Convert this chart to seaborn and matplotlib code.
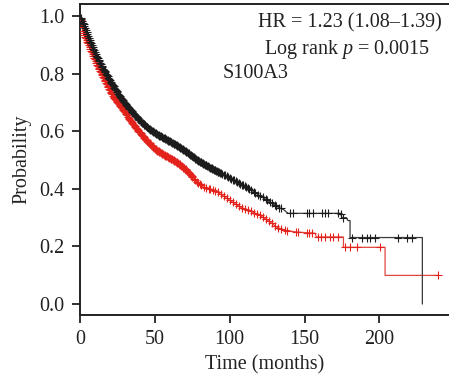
import numpy as np
import pandas as pd
import matplotlib
matplotlib.use("Agg")
import matplotlib.pyplot as plt
import seaborn as sns

# ---- data ----
black_time = [0, 3.3, 6.7, 11, 15.6, 20, 25.6, 31.2, 37.9, 44.5, 51, 58, 64.6, 71.3, 78,
              84.6, 91.3, 98, 104.7, 111.4, 118, 124.7, 131.4, 136, 139, 174, 175, 178,
              179, 180.4, 180.4, 228.7, 228.7]
black_surv = [1.0, 0.962, 0.915, 0.863, 0.817, 0.777, 0.730, 0.690, 0.649, 0.615, 0.591,
              0.571, 0.551, 0.528, 0.501, 0.481, 0.462, 0.444, 0.424, 0.406, 0.383, 0.362,
              0.339, 0.328, 0.315, 0.315, 0.300, 0.300, 0.290, 0.290, 0.231, 0.231, 0.0]

red_time = [0, 2.2, 5.6, 8.9, 12.2, 16.7, 21.2, 26.7, 32.3, 37.9, 44.5, 51.2, 57.9, 64.6,
            71.3, 78, 82.4, 89, 93.5, 100.2, 107, 113.6, 120.3, 127, 131.4, 135.9, 145,
            157, 158, 176, 176, 203.8, 203.8, 239.4]
red_surv = [1.0, 0.944, 0.904, 0.863, 0.823, 0.777, 0.730, 0.690, 0.649, 0.609, 0.568,
            0.534, 0.513, 0.493, 0.464, 0.424, 0.406, 0.397, 0.383, 0.360, 0.337, 0.323,
            0.308, 0.285, 0.267, 0.257, 0.250, 0.246, 0.233, 0.233, 0.197, 0.197, 0.0995,
            0.0995]

black_censor = [0.5, 1, 1.5, 2, 2.5, 3, 3.5, 4, 4.5, 5, 5.5, 6, 6.5, 7, 7.5, 8, 8.5, 9,
                9.5, 10, 10.5, 11, 11.5, 12, 12.5, 13, 13.5, 14, 14.5, 15, 15.5, 16, 16.5,
                17, 17.5, 18, 18.5, 19, 19.5, 20, 20.5, 21, 21.5, 22, 22.5, 23, 23.5, 24,
                24.5, 25, 25.5, 26, 26.5, 27, 27.5, 28, 28.5, 29, 29.5, 30, 30.5, 31,
                31.5, 32, 32.5, 33, 33.5, 34, 34.5, 35, 35.5, 36, 36.5, 37, 37.5, 38,
                38.5, 39, 39.5, 40, 40.5, 41, 41.5, 42, 42.5, 43, 43.5, 44, 44.5, 45,
                45.5, 46, 46.5, 47, 47.5, 48, 48.5, 49, 49.5, 50, 50.5, 51, 51.5, 52,
                52.5, 53, 53.5, 54, 54.5, 55, 55.5, 56, 56.5, 57, 57.5, 58, 58.5, 59,
                59.5, 60, 60.5, 61, 61.5, 62, 62.5, 63, 63.5, 64, 64.5, 65, 65.5, 66,
                66.5, 67, 67.5, 68, 68.5, 69, 69.5, 70, 70.5, 71, 71.5, 72, 72.5, 73,
                73.5, 74, 74.5, 75, 75.5, 76, 76.5, 77, 77.5, 78, 78.5, 79, 79.5, 80,
                80.5, 81, 81.5, 82, 82.5, 83, 83.5, 84, 84.5, 85, 85.5, 86, 86.5, 87,
                87.5, 88, 88.5, 89, 89.5, 90, 90.5, 91, 91.5, 92, 92.5, 93, 93.5, 94,
                95, 96, 97, 98, 99, 100, 101, 102, 103, 104, 105, 106, 107, 108, 109,
                110, 111, 112, 113, 114, 116, 117, 119, 120, 122, 124, 125, 127, 128,
                130, 131, 133, 134, 140.3, 142.1, 151.4, 153.2, 155.9, 161.5, 163.7,
                165.9, 172.6, 174.2, 176, 181.5, 188.2, 191.5, 193.8, 197.1, 212.7,
                218.3, 221.6]
red_censor = [0.5, 1, 1.5, 2, 2.5, 3, 3.5, 4, 4.5, 5, 5.5, 6, 6.5, 7, 7.5, 8, 8.5, 9,
              9.5, 10, 10.5, 11, 11.5, 12, 12.5, 13, 13.5, 14, 14.5, 15, 15.5, 16, 16.5,
              17, 17.5, 18, 18.5, 19, 19.5, 20, 20.5, 21, 21.5, 22, 22.5, 23, 23.5, 24,
              24.5, 25, 25.5, 26, 26.5, 27, 27.5, 28, 28.5, 29, 29.5, 30, 30.5, 31, 31.5,
              32, 32.5, 33, 33.5, 34, 34.5, 35, 35.5, 36, 36.5, 37, 37.5, 38, 38.5, 39,
              39.5, 40, 40.5, 41, 41.5, 42, 42.5, 43, 43.5, 44, 44.5, 45, 45.5, 46, 46.5,
              47, 47.5, 48, 48.5, 49, 49.5, 50, 50.5, 51, 51.5, 52, 52.5, 53, 53.5, 54,
              54.5, 55, 55.5, 56, 56.5, 57, 57.5, 58, 58.5, 59, 59.5, 60, 60.5, 61, 61.5,
              62, 62.5, 63, 63.5, 64, 64.5, 65, 65.5, 66, 66.5, 67, 67.5, 68, 68.5, 69,
              69.5, 70, 70.5, 71, 71.5, 72, 72.5, 73, 73.5, 74, 74.5, 75, 76, 77, 78,
              79, 80, 81, 83, 84, 86, 87, 89, 90, 92, 94, 96, 98, 100, 102, 104, 106,
              108, 110, 112, 114, 116, 118, 120, 122, 124, 126, 128, 130, 132, 134, 137,
              138.5, 144.3, 145.9, 151.4, 153.2, 154.8, 159.2, 160.8, 163.7, 167, 169.3,
              172.6, 177, 180.4, 184.9, 200.4, 239.4]

x_ticks = [0, 50, 100, 150, 200]
y_ticks = [0.0, 0.2, 0.4, 0.6, 0.8, 1.0]
hr_text = "HR = 1.23 (1.08\u20131.39)"
p_text = "Log rank $p$ = 0.0015"
gene_text = "S100A3"

BLACK = "#1c1c1c"
RED = "#e3221c"
BLACK_TAIL = "#3a3a3a"
RED_TAIL = "#e2473f"

sns.set_theme(style="ticks")
plt.rcParams["font.family"] = ["Liberation Serif", "DejaVu Serif"]
plt.rcParams["mathtext.fontset"] = "custom"
plt.rcParams["mathtext.rm"] = "Liberation Serif"
plt.rcParams["mathtext.it"] = "Liberation Serif:italic"

fig = plt.figure(figsize=(4.49, 3.85), dpi=100)
ax = fig.add_axes([80 / 449, 70 / 385, 369 / 449, 311 / 385])


def surv_at(tt, times, surv):
    return np.interp(tt, times, surv)


df_b = pd.DataFrame({"t": black_time, "s": black_surv})
df_r = pd.DataFrame({"t": red_time, "s": red_surv})
cb = pd.DataFrame({"t": black_censor})
cb["s"] = surv_at(cb["t"].values, np.array(black_time[:-1]), np.array(black_surv[:-1]))
cr = pd.DataFrame({"t": red_censor})
cr["s"] = surv_at(cr["t"].values, np.array(red_time), np.array(red_surv))

sns.lineplot(data=df_r, x="t", y="s", sort=False, estimator=None, color=RED_TAIL,
             linewidth=0.9, ax=ax)
sns.scatterplot(data=cr, x="t", y="s", marker="+", s=26, color=RED, linewidth=0.8,
                ax=ax, zorder=3)
sns.lineplot(data=df_b, x="t", y="s", sort=False, estimator=None, color=BLACK_TAIL,
             linewidth=0.9, ax=ax)
sns.scatterplot(data=cb, x="t", y="s", marker="+", s=26, color=BLACK, linewidth=0.8,
                ax=ax, zorder=3)

ax.set_xlim(0, 246.5)
ax.set_ylim(-0.038, 1.042)
ax.set_xticks(x_ticks)
ax.set_yticks(y_ticks)
ax.set_yticklabels([f"{v:.1f}" for v in y_ticks])
ax.set_xlabel("Time (months)", fontsize=14.5, color="#222222", labelpad=4)
ax.set_ylabel("Probability", fontsize=14.5, color="#222222", labelpad=6)
ax.tick_params(axis="both", labelsize=14.5, length=6, width=1.3, direction="out",
               pad=5, colors="#222222")
for side in ["left", "bottom", "top"]:
    ax.spines[side].set_linewidth(1.4)
    ax.spines[side].set_color("#222222")
ax.spines["right"].set_visible(False)
ax.spines["top"].set_visible(True)

ax.text(241.9, 0.976, hr_text, ha="right", va="center", fontsize=14.5, color="#222222")
ax.text(233.8, 0.885, p_text, ha="right", va="center", fontsize=14.5, color="#222222")
ax.text(95.3, 0.799, gene_text, ha="left", va="center", fontsize=14.5, color="#222222")

fig.savefig("out.png", dpi=100)
